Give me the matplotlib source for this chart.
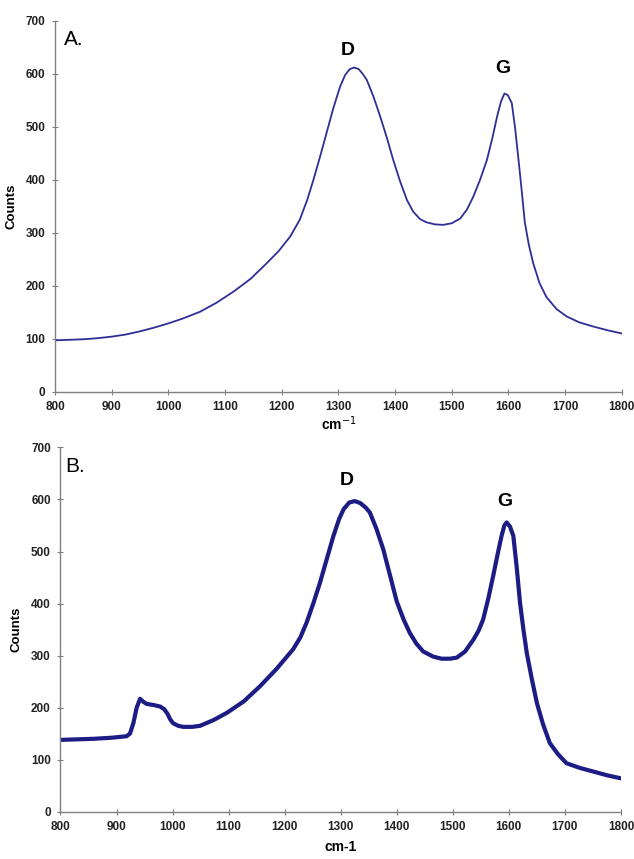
import matplotlib.pyplot as plt

plt.rcParams["font.family"] = ["Liberation Sans", "DejaVu Sans"]

# wavenumber (cm-1) and counts
wn_a = [800, 825, 850, 875, 900, 925, 950, 975, 1000, 1025, 1056, 1085,
        1115, 1145, 1173, 1195, 1215, 1232, 1245, 1256, 1268, 1279, 1291,
        1303, 1312, 1320, 1328, 1336, 1343, 1350, 1362, 1374, 1386, 1397,
        1409, 1421, 1432, 1444, 1455, 1470, 1485, 1500, 1515, 1527, 1538,
        1550, 1562, 1572, 1580, 1587, 1593, 1599, 1606, 1612, 1618, 1624,
        1629, 1636, 1644, 1655, 1667, 1685, 1703, 1725, 1750, 1775, 1800]
counts_a = [97, 98, 99, 101, 104, 108, 114, 121, 129, 138, 151, 168,
            189, 213, 242, 266, 293, 325, 362, 400, 445, 488, 535,
            576, 598, 609, 612, 609, 600, 589, 557, 519, 478, 437,
            397, 362, 340, 326, 320, 316, 315, 318, 327, 344, 368,
            400, 437, 480, 519, 548, 563, 560, 545, 497, 437, 375,
            320, 278, 242, 205, 179, 156, 142, 131, 123, 116, 110]

# panel B
wn_b = [800, 830, 858, 890, 918, 924, 930, 936, 942, 948, 954, 966,
        978, 985, 991, 996, 1001, 1010, 1019, 1035, 1049, 1073, 1097,
        1127, 1156, 1186, 1215, 1228, 1239, 1251, 1263, 1275, 1287, 1297,
        1305, 1315, 1325, 1335, 1345, 1352, 1364, 1376, 1388, 1400, 1412,
        1423, 1435, 1447, 1465, 1480, 1495, 1507, 1522, 1537, 1546, 1554,
        1563, 1572, 1580, 1587, 1592, 1596, 1602, 1608, 1614, 1620, 1626,
        1632, 1641, 1650, 1661, 1673, 1688, 1703, 1727, 1751, 1775, 1800]
counts_b = [138, 139, 140, 142, 145, 150, 170, 200, 217, 211, 207, 205,
            202, 197, 188, 177, 170, 165, 163, 163, 165, 176, 190,
            212, 241, 275, 312, 335, 363, 400, 440, 485, 530, 562,
            581, 594, 597, 593, 584, 575, 543, 504, 454, 404, 370,
            344, 323, 308, 298, 294, 294, 296, 308, 331, 348, 369,
            408, 453, 495, 530, 550, 556, 548, 530, 470, 401, 350,
            305, 255, 209, 168, 132, 110, 93, 84, 77, 70, 64]

xticks = list(range(800, 1801, 100))
yticks = list(range(0, 701, 100))

fig = plt.figure(figsize=(6.34, 8.59), dpi=100)
ax_a = fig.add_axes([0.0868, 0.544, 0.8938, 0.4316])
ax_b = fig.add_axes([0.0954, 0.0551, 0.884, 0.424])

for ax in (ax_a, ax_b):
    ax.set_xlim(800, 1800)
    ax.set_ylim(0, 700)
    ax.set_xticks(xticks)
    ax.set_yticks(yticks)
    for side in ("top", "right"):
        ax.spines[side].set_visible(False)
    for side in ("left", "bottom"):
        ax.spines[side].set_color("#808080")
        ax.spines[side].set_linewidth(1.0)
    ax.tick_params(direction="inout", length=4, width=0.8, color="#808080",
                   labelsize=8.5, pad=5)
    for lab in ax.get_xticklabels() + ax.get_yticklabels():
        lab.set_fontweight("bold")
        lab.set_color("#222222")
    ax.set_ylabel("Counts", fontsize=9.5, fontweight="bold", labelpad=6)

ax_a.plot(wn_a, counts_a, color="#2e2e96", lw=1.3)
ax_b.plot(wn_b, counts_b, color="#1c1c85", lw=3.0)

ax_a.set_xlabel("cm$^{-1}$", fontsize=10, fontweight="bold", labelpad=1)
ax_b.set_xlabel("cm-1", fontsize=10, fontweight="bold", labelpad=5)

ax_a.text(0.015, 0.95, "A.", transform=ax_a.transAxes, fontsize=15,
          va="center", ha="left")
ax_b.text(0.008, 0.947, "B.", transform=ax_b.transAxes, fontsize=15,
          va="center", ha="left")

ax_a.text(1317, 645, "D", fontsize=14, fontweight="bold", ha="center", va="center")
ax_a.text(1590, 611, "G", fontsize=14, fontweight="bold", ha="center", va="center")
ax_b.text(1311, 637, "D", fontsize=14, fontweight="bold", ha="center", va="center")
ax_b.text(1593, 597, "G", fontsize=14, fontweight="bold", ha="center", va="center")

fig.savefig("out.png", dpi=100)
